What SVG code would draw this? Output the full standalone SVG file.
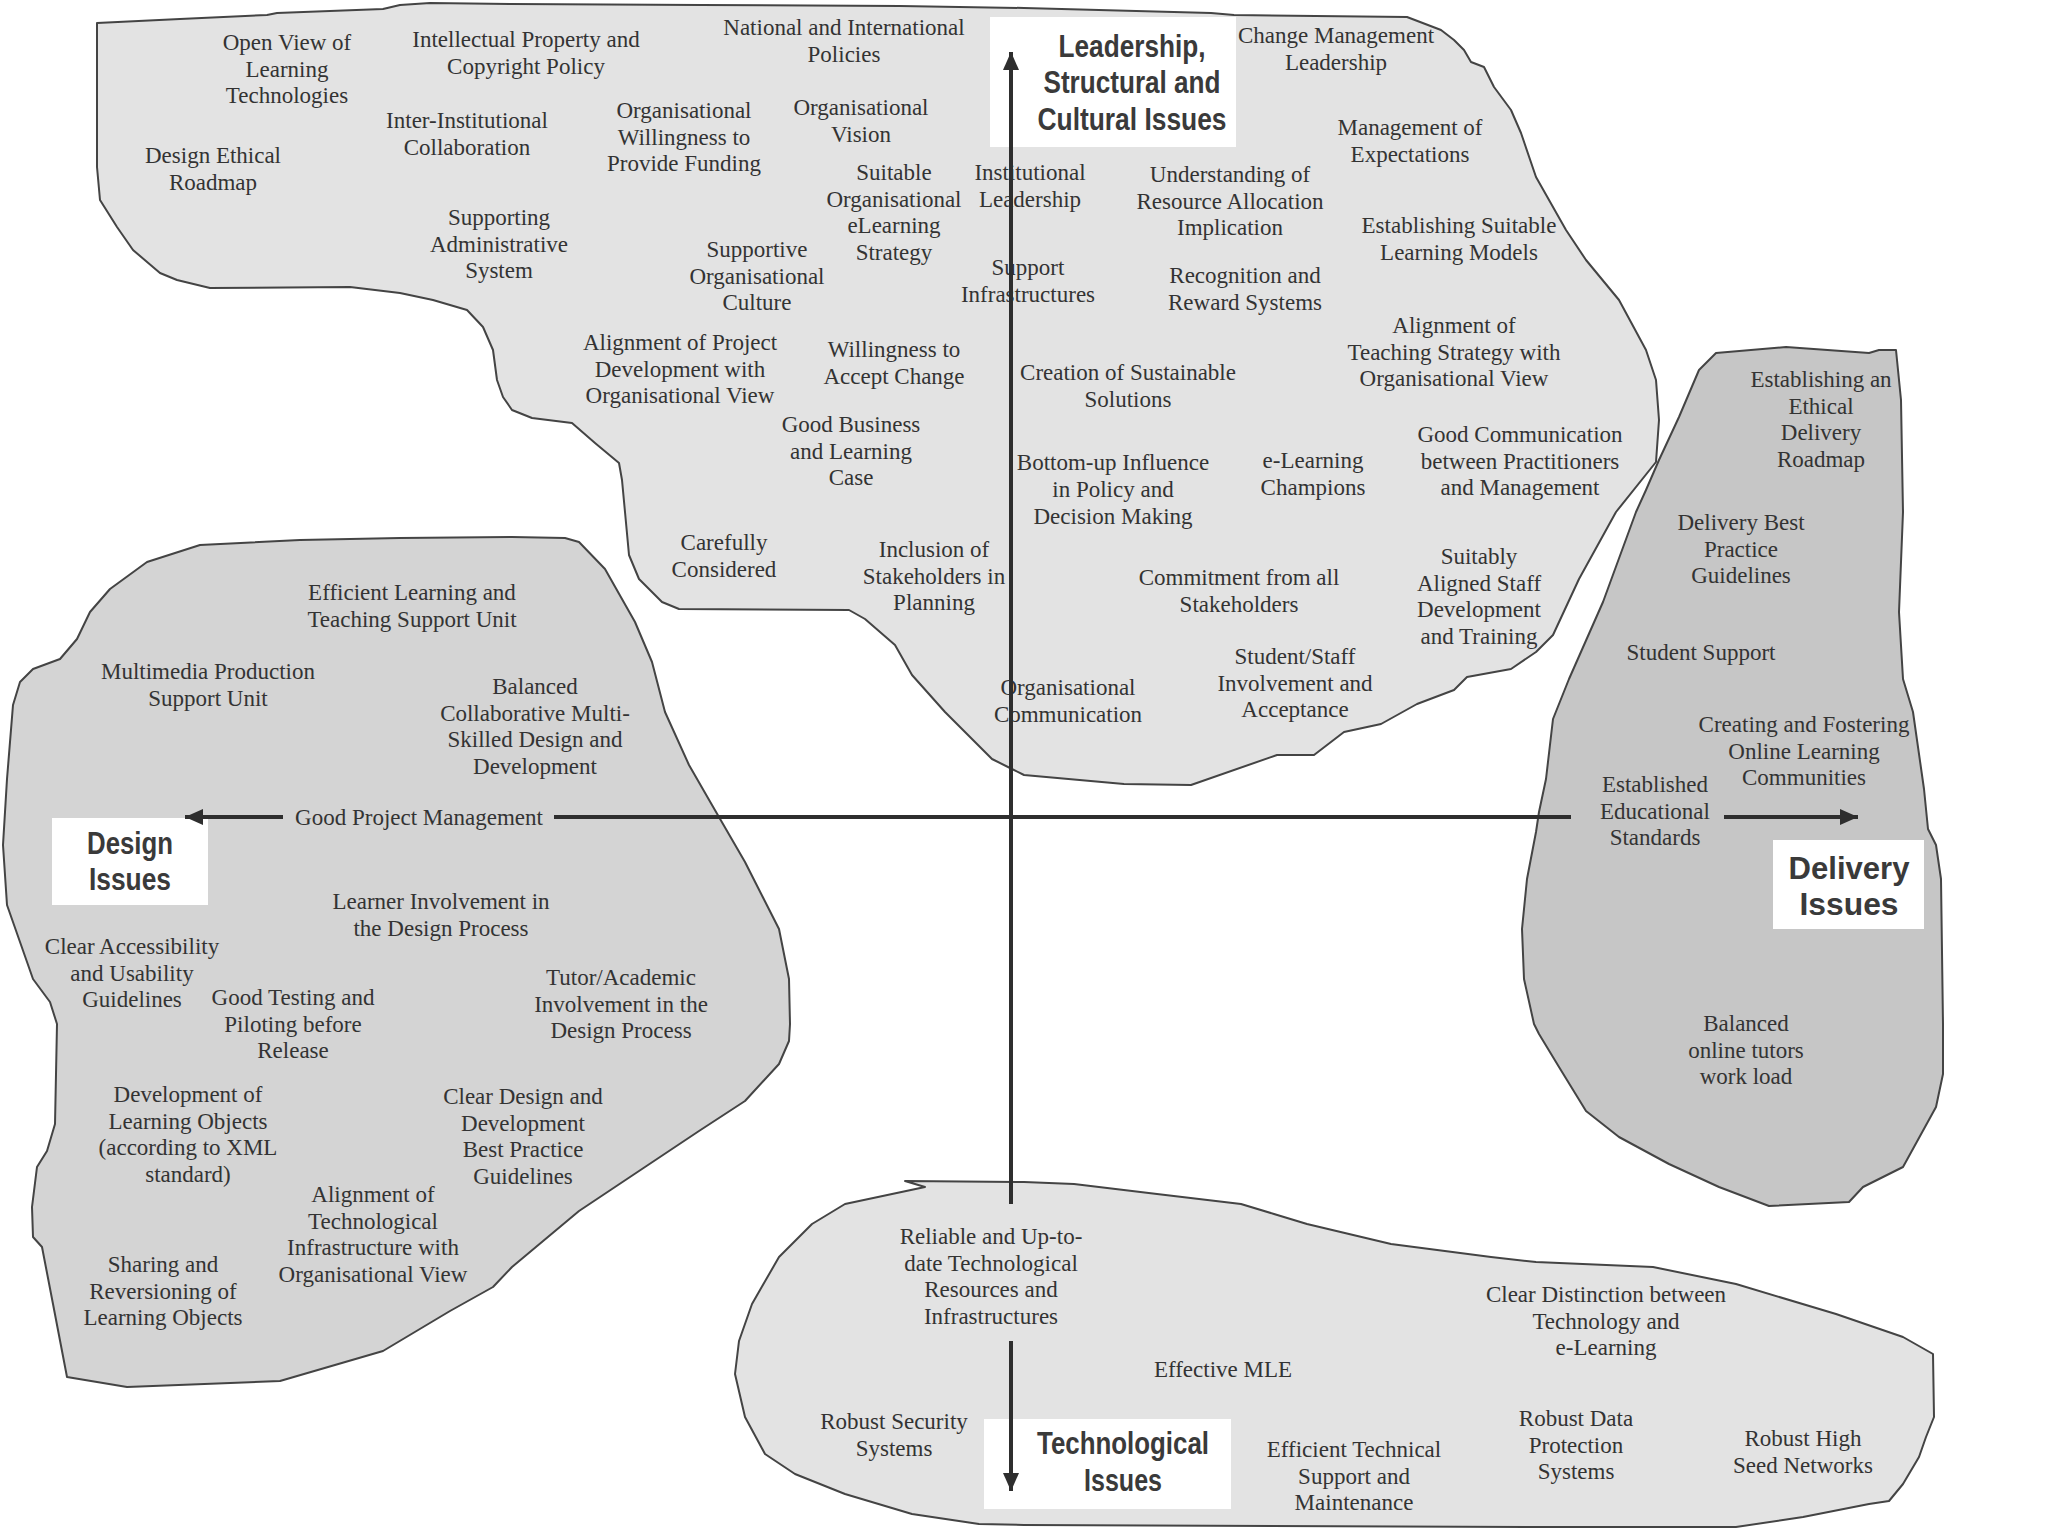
<svg xmlns="http://www.w3.org/2000/svg" width="2048" height="1536" viewBox="0 0 2048 1536">
<defs>
<style>
.blob{stroke:#444;stroke-width:2;stroke-linejoin:round}
.light{fill:#e3e3e3}
.mid{fill:#d4d4d4}
.dark{fill:#c6c6c6}
.box{fill:#ffffff}
.t{font-family:"Liberation Serif","Times New Roman",serif;font-size:23px;fill:#333;text-anchor:middle}
.h{font-family:"Liberation Sans",Arial,sans-serif;font-weight:bold;font-size:32px;fill:#3a3a3a;text-anchor:middle}
.ax{stroke:#2e2e2e;stroke-width:4;fill:none}
</style>
<marker id="ah" viewBox="0 0 18 16" refX="18" refY="8" markerWidth="18" markerHeight="16" markerUnits="userSpaceOnUse" orient="auto">
<path d="M0,0 L18,8 L0,16 Z" fill="#2e2e2e"/>
</marker>
</defs>
<rect width="2048" height="1536" fill="#ffffff"/>

<g id="region-leadership">
<path class="blob light" d="M97,23 L180,19 L267,15 L277,13 L383,9 L400,5 L430,3 L512,4 L700,5 L900,6 L1024,8 L1211,13 L1234,15 L1407,17 L1441,30 L1454,40 L1464,50 L1471,62 L1484,67 L1494,87 L1511,110 L1521,133 L1536,177 L1566,230 L1586,260 L1619,300 L1646,350 L1656,380 L1659,420 L1656,462 L1616,512 L1579,579 L1553,635 L1536,652 L1511,669 L1467,677 L1454,690 L1417,704 L1381,724 L1344,732 L1314,755 L1277,755 L1191,785 L1124,784 L1024,775 L1012,769 L992,759 L972,739 L945,712 L912,675 L895,645 L865,619 L849,610 L679,609 L662,602 L639,579 L629,555 L625,512 L622,480 L619,463 L595,443 L572,423 L532,418 L512,410 L503,397 L497,380 L493,350 L483,327 L467,310 L433,300 L400,293 L350,287 L210,288 L177,280 L160,273 L133,250 L117,227 L100,200 L97,167 Z"/>
</g>
<g id="region-design">
<path class="blob mid" d="M400,538 L512,537 L565,538 L579,542 L605,569 L635,622 L652,662 L665,712 L689,765 L712,805 L745,862 L779,929 L789,979 L790,1024 L789,1041 L779,1064 L745,1101 L699,1131 L645,1167 L579,1211 L512,1267 L493,1287 L450,1311 L383,1351 L280,1381 L127,1387 L67,1377 L53,1304 L42,1247 L33,1237 L32,1207 L37,1167 L47,1151 L55,1124 L57,1024 L50,1002 L33,979 L20,942 L7,905 L3,845 L7,779 L13,705 L20,682 L33,669 L60,659 L77,639 L90,612 L110,589 L147,562 L200,545 L300,540 Z"/>
</g>
<g id="region-delivery">
<path class="blob dark" d="M1716,353 L1786,347 L1869,353 L1879,350 L1896,350 L1901,400 L1903,512 L1899,612 L1903,679 L1913,712 L1924,789 L1928,829 L1936,845 L1941,879 L1943,1024 L1943,1074 L1936,1107 L1903,1167 L1863,1187 L1849,1202 L1769,1206 L1719,1187 L1669,1164 L1619,1137 L1586,1111 L1559,1067 L1539,1034 L1534,1024 L1524,979 L1522,929 L1527,879 L1536,832 L1539,812 L1546,779 L1553,719 L1569,679 L1603,602 L1636,512 L1646,490 L1659,460 L1679,417 L1699,370 Z"/>
</g>
<g id="region-technological">
<path class="blob light" d="M905,1181 L1024,1182 L1074,1184 L1157,1194 L1241,1204 L1274,1214 L1307,1224 L1391,1244 L1491,1257 L1536,1262 L1653,1267 L1736,1284 L1836,1314 L1903,1337 L1933,1354 L1934,1417 L1926,1437 L1919,1457 L1903,1484 L1889,1501 L1869,1504 L1803,1517 L1736,1527 L1536,1527 L1024,1525 L979,1524 L912,1514 L845,1494 L795,1474 L765,1454 L745,1417 L735,1374 L739,1341 L752,1304 L779,1257 L812,1224 L845,1204 L925,1187 Z"/>
</g>

<g id="label-leadership">
<rect class="box" x="990" y="17" width="246" height="130"/>
<text class="h" x="1132" y="57" textLength="147" lengthAdjust="spacingAndGlyphs">Leadership,</text>
<text class="h" x="1132" y="93" textLength="177" lengthAdjust="spacingAndGlyphs">Structural and</text>
<text class="h" x="1132" y="130" textLength="189" lengthAdjust="spacingAndGlyphs">Cultural Issues</text>
</g>
<g id="label-design">
<rect class="box" x="52" y="818" width="156" height="87"/>
<text class="h" x="130" y="854" textLength="86" lengthAdjust="spacingAndGlyphs">Design</text>
<text class="h" x="130" y="890" textLength="82" lengthAdjust="spacingAndGlyphs">Issues</text>
</g>
<g id="label-delivery">
<rect class="box" x="1773" y="840" width="151" height="89"/>
<text class="h" x="1849" y="879" textLength="121" lengthAdjust="spacingAndGlyphs">Delivery</text>
<text class="h" x="1849" y="915" textLength="99" lengthAdjust="spacingAndGlyphs">Issues</text>
</g>
<g id="label-technological">
<rect class="box" x="984" y="1419" width="247" height="90"/>
<text class="h" x="1123" y="1454" textLength="172" lengthAdjust="spacingAndGlyphs">Technological</text>
<text class="h" x="1123" y="1491" textLength="78" lengthAdjust="spacingAndGlyphs">Issues</text>
</g>

<g id="n-open-view"><text class="t" x="287" y="50"><tspan x="287">Open View of</tspan><tspan x="287" dy="26.5">Learning</tspan><tspan x="287" dy="26.5">Technologies</tspan></text></g>
<g id="n-design-ethical"><text class="t" x="213" y="163"><tspan x="213">Design Ethical</tspan><tspan x="213" dy="26.5">Roadmap</tspan></text></g>
<g id="n-ip"><text class="t" x="526" y="47"><tspan x="526">Intellectual Property and</tspan><tspan x="526" dy="26.5">Copyright Policy</tspan></text></g>
<g id="n-inter-inst"><text class="t" x="467" y="128"><tspan x="467">Inter-Institutional</tspan><tspan x="467" dy="26.5">Collaboration</tspan></text></g>
<g id="n-supp-admin"><text class="t" x="499" y="225"><tspan x="499">Supporting</tspan><tspan x="499" dy="26.5">Administrative</tspan><tspan x="499" dy="26.5">System</tspan></text></g>
<g id="n-national"><text class="t" x="844" y="35"><tspan x="844">National and International</tspan><tspan x="844" dy="26.5">Policies</tspan></text></g>
<g id="n-org-funding"><text class="t" x="684" y="118"><tspan x="684">Organisational</tspan><tspan x="684" dy="26.5">Willingness to</tspan><tspan x="684" dy="26.5">Provide Funding</tspan></text></g>
<g id="n-org-vision"><text class="t" x="861" y="115"><tspan x="861">Organisational</tspan><tspan x="861" dy="26.5">Vision</tspan></text></g>
<g id="n-suitable-strategy"><text class="t" x="894" y="180"><tspan x="894">Suitable</tspan><tspan x="894" dy="26.5">Organisational</tspan><tspan x="894" dy="26.5">eLearning</tspan><tspan x="894" dy="26.5">Strategy</tspan></text></g>
<g id="n-supportive-culture"><text class="t" x="757" y="257"><tspan x="757">Supportive</tspan><tspan x="757" dy="26.5">Organisational</tspan><tspan x="757" dy="26.5">Culture</tspan></text></g>
<g id="n-align-project"><text class="t" x="680" y="350"><tspan x="680">Alignment of Project</tspan><tspan x="680" dy="26.5">Development with</tspan><tspan x="680" dy="26.5">Organisational View</tspan></text></g>
<g id="n-willingness-change"><text class="t" x="894" y="357"><tspan x="894">Willingness to</tspan><tspan x="894" dy="26.5">Accept Change</tspan></text></g>
<g id="n-business-case"><text class="t" x="851" y="432"><tspan x="851">Good Business</tspan><tspan x="851" dy="26.5">and Learning</tspan><tspan x="851" dy="26.5">Case</tspan></text></g>
<g id="n-institutional"><text class="t" x="1030" y="180"><tspan x="1030">Institutional</tspan><tspan x="1030" dy="26.5">Leadership</tspan></text></g>
<g id="n-support-infra"><text class="t" x="1028" y="275"><tspan x="1028">Support</tspan><tspan x="1028" dy="26.5">Infrastructures</tspan></text></g>
<g id="n-change-mgmt"><text class="t" x="1336" y="43"><tspan x="1336">Change Management</tspan><tspan x="1336" dy="26.5">Leadership</tspan></text></g>
<g id="n-mgmt-expect"><text class="t" x="1410" y="135"><tspan x="1410">Management of</tspan><tspan x="1410" dy="26.5">Expectations</tspan></text></g>
<g id="n-resource-alloc"><text class="t" x="1230" y="182"><tspan x="1230">Understanding of</tspan><tspan x="1230" dy="26.5">Resource Allocation</tspan><tspan x="1230" dy="26.5">Implication</tspan></text></g>
<g id="n-learning-models"><text class="t" x="1459" y="233"><tspan x="1459">Establishing Suitable</tspan><tspan x="1459" dy="26.5">Learning Models</tspan></text></g>
<g id="n-recognition"><text class="t" x="1245" y="283"><tspan x="1245">Recognition and</tspan><tspan x="1245" dy="26.5">Reward Systems</tspan></text></g>
<g id="n-align-teaching"><text class="t" x="1454" y="333"><tspan x="1454">Alignment of</tspan><tspan x="1454" dy="26.5">Teaching Strategy with</tspan><tspan x="1454" dy="26.5">Organisational View</tspan></text></g>
<g id="n-sustainable"><text class="t" x="1128" y="380"><tspan x="1128">Creation of Sustainable</tspan><tspan x="1128" dy="26.5">Solutions</tspan></text></g>
<g id="n-bottom-up"><text class="t" x="1113" y="470"><tspan x="1113">Bottom-up Influence</tspan><tspan x="1113" dy="27">in Policy and</tspan><tspan x="1113" dy="27">Decision Making</tspan></text></g>
<g id="n-champions"><text class="t" x="1313" y="468"><tspan x="1313">e-Learning</tspan><tspan x="1313" dy="26.5">Champions</tspan></text></g>
<g id="n-good-comm"><text class="t" x="1520" y="442"><tspan x="1520">Good Communication</tspan><tspan x="1520" dy="26.5">between Practitioners</tspan><tspan x="1520" dy="26.5">and Management</tspan></text></g>
<g id="n-carefully"><text class="t" x="724" y="550"><tspan x="724">Carefully</tspan><tspan x="724" dy="26.5">Considered</tspan></text></g>
<g id="n-inclusion"><text class="t" x="934" y="557"><tspan x="934">Inclusion of</tspan><tspan x="934" dy="26.5">Stakeholders in</tspan><tspan x="934" dy="26.5">Planning</tspan></text></g>
<g id="n-org-comm"><text class="t" x="1068" y="695"><tspan x="1068">Organisational</tspan><tspan x="1068" dy="26.5">Communication</tspan></text></g>
<g id="n-commitment"><text class="t" x="1239" y="585"><tspan x="1239">Commitment from all</tspan><tspan x="1239" dy="26.5">Stakeholders</tspan></text></g>
<g id="n-student-staff"><text class="t" x="1295" y="664"><tspan x="1295">Student/Staff</tspan><tspan x="1295" dy="26.5">Involvement and</tspan><tspan x="1295" dy="26.5">Acceptance</tspan></text></g>
<g id="n-staff-dev"><text class="t" x="1479" y="564"><tspan x="1479">Suitably</tspan><tspan x="1479" dy="26.5">Aligned Staff</tspan><tspan x="1479" dy="26.5">Development</tspan><tspan x="1479" dy="26.5">and Training</tspan></text></g>

<g id="n-ethical-delivery"><text class="t" x="1821" y="387"><tspan x="1821">Establishing an</tspan><tspan x="1821" dy="26.5">Ethical</tspan><tspan x="1821" dy="26.5">Delivery</tspan><tspan x="1821" dy="26.5">Roadmap</tspan></text></g>
<g id="n-delivery-best"><text class="t" x="1741" y="530"><tspan x="1741">Delivery Best</tspan><tspan x="1741" dy="26.5">Practice</tspan><tspan x="1741" dy="26.5">Guidelines</tspan></text></g>
<g id="n-student-support"><text class="t" x="1701" y="660">Student Support</text></g>
<g id="n-communities"><text class="t" x="1804" y="732"><tspan x="1804">Creating and Fostering</tspan><tspan x="1804" dy="26.5">Online Learning</tspan><tspan x="1804" dy="26.5">Communities</tspan></text></g>
<g id="n-standards"><text class="t" x="1655" y="792"><tspan x="1655">Established</tspan><tspan x="1655" dy="26.5">Educational</tspan><tspan x="1655" dy="26.5">Standards</tspan></text></g>
<g id="n-tutors"><text class="t" x="1746" y="1031"><tspan x="1746">Balanced</tspan><tspan x="1746" dy="26.5">online tutors</tspan><tspan x="1746" dy="26.5">work load</tspan></text></g>

<g id="n-efficient-unit"><text class="t" x="412" y="600"><tspan x="412">Efficient Learning and</tspan><tspan x="412" dy="26.5">Teaching Support Unit</tspan></text></g>
<g id="n-multimedia"><text class="t" x="208" y="679"><tspan x="208">Multimedia Production</tspan><tspan x="208" dy="26.5">Support Unit</tspan></text></g>
<g id="n-balanced-team"><text class="t" x="535" y="694"><tspan x="535">Balanced</tspan><tspan x="535" dy="26.5">Collaborative Multi-</tspan><tspan x="535" dy="26.5">Skilled Design and</tspan><tspan x="535" dy="26.5">Development</tspan></text></g>
<g id="n-project-mgmt"><text class="t" x="419" y="825">Good Project Management</text></g>
<g id="n-learner"><text class="t" x="441" y="909"><tspan x="441">Learner Involvement in</tspan><tspan x="441" dy="26.5">the Design Process</tspan></text></g>
<g id="n-accessibility"><text class="t" x="132" y="954"><tspan x="132">Clear Accessibility</tspan><tspan x="132" dy="26.5">and Usability</tspan><tspan x="132" dy="26.5">Guidelines</tspan></text></g>
<g id="n-testing"><text class="t" x="293" y="1005"><tspan x="293">Good Testing and</tspan><tspan x="293" dy="26.5">Piloting before</tspan><tspan x="293" dy="26.5">Release</tspan></text></g>
<g id="n-tutor-academic"><text class="t" x="621" y="985"><tspan x="621">Tutor/Academic</tspan><tspan x="621" dy="26.5">Involvement in the</tspan><tspan x="621" dy="26.5">Design Process</tspan></text></g>
<g id="n-learning-objects"><text class="t" x="188" y="1102"><tspan x="188">Development of</tspan><tspan x="188" dy="26.5">Learning Objects</tspan><tspan x="188" dy="26.5">(according to XML</tspan><tspan x="188" dy="26.5">standard)</tspan></text></g>
<g id="n-clear-design"><text class="t" x="523" y="1104"><tspan x="523">Clear Design and</tspan><tspan x="523" dy="26.5">Development</tspan><tspan x="523" dy="26.5">Best Practice</tspan><tspan x="523" dy="26.5">Guidelines</tspan></text></g>
<g id="n-align-tech"><text class="t" x="373" y="1202"><tspan x="373">Alignment of</tspan><tspan x="373" dy="26.5">Technological</tspan><tspan x="373" dy="26.5">Infrastructure with</tspan><tspan x="373" dy="26.5">Organisational View</tspan></text></g>
<g id="n-sharing"><text class="t" x="163" y="1272"><tspan x="163">Sharing and</tspan><tspan x="163" dy="26.5">Reversioning of</tspan><tspan x="163" dy="26.5">Learning Objects</tspan></text></g>

<g id="n-reliable"><text class="t" x="991" y="1244"><tspan x="991">Reliable and Up-to-</tspan><tspan x="991" dy="26.5">date Technological</tspan><tspan x="991" dy="26.5">Resources and</tspan><tspan x="991" dy="26.5">Infrastructures</tspan></text></g>
<g id="n-security"><text class="t" x="894" y="1429"><tspan x="894">Robust Security</tspan><tspan x="894" dy="26.5">Systems</tspan></text></g>
<g id="n-mle"><text class="t" x="1223" y="1377">Effective MLE</text></g>
<g id="n-tech-support"><text class="t" x="1354" y="1457"><tspan x="1354">Efficient Technical</tspan><tspan x="1354" dy="26.5">Support and</tspan><tspan x="1354" dy="26.5">Maintenance</tspan></text></g>
<g id="n-distinction"><text class="t" x="1606" y="1302"><tspan x="1606">Clear Distinction between</tspan><tspan x="1606" dy="26.5">Technology and</tspan><tspan x="1606" dy="26.5">e-Learning</tspan></text></g>
<g id="n-data-protection"><text class="t" x="1576" y="1426"><tspan x="1576">Robust Data</tspan><tspan x="1576" dy="26.5">Protection</tspan><tspan x="1576" dy="26.5">Systems</tspan></text></g>
<g id="n-high-speed"><text class="t" x="1803" y="1446"><tspan x="1803">Robust High</tspan><tspan x="1803" dy="26.5">Seed Networks</tspan></text></g>

<g id="connectors">
<path class="ax" d="M1011,1204 L1011,52" marker-end="url(#ah)"/>
<path class="ax" d="M1011,1341 L1011,1491" marker-end="url(#ah)"/>
<path class="ax" d="M283,817 L185,817" marker-end="url(#ah)"/>
<path class="ax" d="M554,817 L1571,817"/>
<path class="ax" d="M1724,817 L1858,817" marker-end="url(#ah)"/>
</g>
</svg>
